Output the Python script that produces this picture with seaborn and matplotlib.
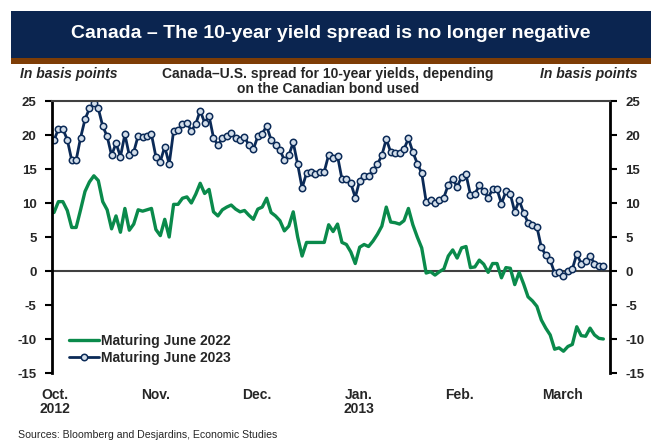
import numpy as np
import pandas as pd
import seaborn as sns
import matplotlib
matplotlib.use("Agg")
import matplotlib.pyplot as plt
from matplotlib.patches import Rectangle

# ---------------- data ----------------
june_2022 = [8.6, 10.2, 10.2, 8.9, 6.4, 6.4, 9.0, 11.7, 13.1, 14.0,
             13.3, 10.2, 9.0, 6.2, 8.1, 5.7, 9.2, 6.0, 6.9, 9.0,
             8.8, 9.0, 9.2, 6.1, 5.2, 7.6, 5.0, 9.8, 9.8, 10.7,
             10.9, 10.0, 11.3, 12.9, 11.4, 12.0, 8.7, 8.1, 9.0, 9.4,
             9.7, 9.1, 8.7, 8.9, 8.2, 7.6, 9.1, 9.4, 10.7, 8.6,
             8.1, 7.4, 5.9, 6.6, 8.7, 5.0, 2.2, 4.2, 4.2, 4.2,
             4.2, 4.2, 6.8, 5.8, 6.9, 4.2, 3.9, 2.8, 1.1, 3.5,
             3.9, 3.6, 4.4, 5.4, 6.6, 9.4, 7.2, 7.1, 6.9, 7.4,
             9.2, 6.8, 5.0, 3.4, -0.3, -0.1, -0.6, -0.1, 0.3, 2.2,
             3.1, 1.9, 3.4, 3.6, 0.5, 0.6, 1.6, 1.0, -0.2, 1.1,
             1.1, -1.0, 0.5, 0.4, -2.0, -0.2, -1.9, -3.8, -4.4, -5.2,
             -7.2, -8.4, -9.4, -11.5, -11.3, -11.8, -11.1, -10.8, -8.2, -9.5,
             -9.6, -8.4, -9.4, -9.9, -10.0]

june_2023 = [19.2, 20.9, 20.9, 19.3, 16.3, 16.3, 19.6, 22.3, 23.9, 24.7,
             23.9, 21.3, 19.8, 17.0, 18.8, 16.8, 20.1, 17.0, 17.5, 19.9,
             19.7, 19.9, 20.1, 16.8, 16.1, 18.3, 15.7, 20.6, 20.7, 21.6,
             21.8, 20.6, 21.6, 23.6, 21.8, 22.8, 19.6, 18.5, 19.5, 19.8,
             20.3, 19.5, 19.3, 19.7, 18.5, 17.9, 19.8, 20.2, 21.3, 19.3,
             18.6, 17.8, 16.3, 17.0, 18.9, 15.7, 12.2, 14.4, 14.5, 14.2,
             14.6, 14.6, 17.1, 16.6, 16.9, 13.5, 13.5, 12.9, 10.8, 13.3,
             14.0, 13.9, 14.8, 15.7, 17.0, 19.4, 17.5, 17.4, 17.3, 17.9,
             19.5, 17.5, 15.8, 14.4, 10.2, 10.4, 10.0, 10.4, 10.8, 12.7,
             13.5, 12.4, 13.8, 14.2, 11.2, 11.3, 12.6, 11.8, 10.8, 12.0,
             12.0, 9.9, 11.7, 11.3, 8.7, 10.4, 8.6, 7.1, 6.8, 6.5,
             3.5, 2.3, 1.6, -0.3, -0.2, -0.7, 0.0, 0.3, 2.5, 1.1,
             1.4, 2.2, 1.1, 0.7, 0.7]

month_labels = ["Oct.\n2012", "Nov.", "Dec.", "Jan.\n2013", "Feb.", "March"]
y_ticks = [-15, -10, -5, 0, 5, 10, 15, 20, 25]
series_names = ["Maturing June 2022", "Maturing June 2023"]

# ---------------- layout constants ----------------
month_tick_pos = [0.2, 23.0, 45.8, 68.8, 91.6, 114.7]

GREEN = "#0a8a4b"
NAVY = "#0b2a57"
MARKER_FACE = "#d3deea"
BAR_NAVY = "#0b2550"
BROWN = "#7e3d06"

sns.set_theme(style="white")
plt.rcParams["font.family"] = ["Liberation Sans", "DejaVu Sans"]

df = pd.DataFrame({"idx": np.arange(len(june_2022)),
                   series_names[0]: june_2022,
                   series_names[1]: june_2023})

fig = plt.figure(figsize=(6.51, 4.41), dpi=100)
ax = fig.add_axes([52 / 651, 1 - 373 / 441, (610 - 52) / 651, (373 - 101) / 441])

sns.lineplot(data=df, x="idx", y=series_names[0], ax=ax, color=GREEN,
             linewidth=2.4, label=series_names[0])
sns.lineplot(data=df, x="idx", y=series_names[1], ax=ax, color=NAVY,
             linewidth=2.0, marker="o", markersize=4.6,
             markerfacecolor=MARKER_FACE, markeredgecolor=NAVY,
             markeredgewidth=1.1, label=series_names[1])

ax.axhline(0, color="#404040", linewidth=1.5, zorder=1)

ax.set_xlim(-0.45, 125.5)
ax.set_ylim(-15, 25)
ax.set_xlabel("")
ax.set_ylabel("")

ax.set_xticks(month_tick_pos)
ax.set_xticklabels(month_labels, fontsize=10, fontweight="bold", linespacing=1.0)
ax.tick_params(axis="x", length=0, pad=11)

ax.set_yticks(y_ticks)
ax.set_yticklabels([str(v) for v in y_ticks], fontsize=9.5, fontweight="bold")
ax.tick_params(axis="y", which="both", direction="out", length=5, width=1.5,
               color="black", left=True, right=True, labelleft=True,
               labelright=True, pad=6)

for side in ["left", "right"]:
    ax.spines[side].set_visible(True)
    ax.spines[side].set_color("black")
    ax.spines[side].set_linewidth(2.0)
ax.spines["top"].set_visible(True)
ax.spines["top"].set_color("#404040")
ax.spines["top"].set_linewidth(1.5)
ax.spines["bottom"].set_visible(False)
ax.grid(False)

leg = ax.legend(loc="lower left", bbox_to_anchor=(0.03, 0.03), frameon=False,
                prop={"weight": "bold", "size": 10}, handlelength=2.2,
                handletextpad=0.15, labelspacing=0.2, borderaxespad=0.0,
                borderpad=0.0)

# title bar
fig.patches.append(Rectangle((11 / 651, 1 - 58 / 441), 1 - 11 / 651, 47 / 441,
                             transform=fig.transFigure, facecolor=BAR_NAVY,
                             edgecolor="none", zorder=0))
fig.patches.append(Rectangle((11 / 651, 1 - 64 / 441), 1 - 11 / 651, 6 / 441,
                             transform=fig.transFigure, facecolor=BROWN,
                             edgecolor="none", zorder=0))
fig.text(331 / 651, 1 - 34 / 441,
         "Canada \u2013 The 10-year yield spread is no longer negative",
         color="white", fontsize=14, fontweight="bold", ha="center", va="center")

fig.text(328 / 651, 1 - 67 / 441,
         "Canada\u2013U.S. spread for 10-year yields, depending\non the Canadian bond used",
         fontsize=10, fontweight="bold", ha="center", va="top", linespacing=1.05)
fig.text(20 / 651, 1 - 74 / 441, "In basis points", fontsize=10,
         fontweight="bold", fontstyle="italic", ha="left", va="center")
fig.text(638 / 651, 1 - 74 / 441, "In basis points", fontsize=10,
         fontweight="bold", fontstyle="italic", ha="right", va="center")

fig.text(18 / 651, 1 - 435 / 441,
         "Sources: Bloomberg and Desjardins, Economic Studies",
         fontsize=7.6, ha="left", va="center")

fig.savefig("out.png", dpi=100)
